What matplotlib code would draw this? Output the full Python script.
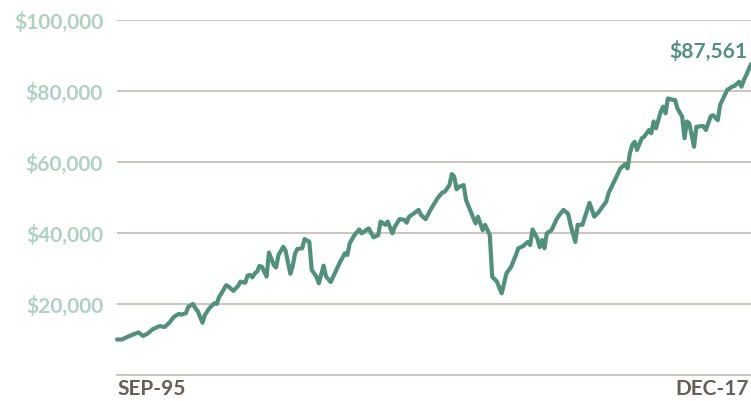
""" Growth of $10,000 line chart, Sep-95 to Dec-17 """

import matplotlib
matplotlib.use("Agg")
import matplotlib.pyplot as plt
from matplotlib.ticker import FuncFormatter

# months since Sep-95 and portfolio value
months = [0, 2, 4, 6, 9, 11, 13, 15, 18, 20, 22, 24, 26, 27, 29, 30, 32, 33,
          34, 36, 37, 39, 41, 42, 43, 44, 46, 47, 49, 51, 52, 54, 55, 56, 57,
          58, 59, 60, 61, 63, 64, 66, 67, 68, 70, 71, 73, 74, 75, 76, 78, 79,
          81, 82, 84, 85, 87, 88, 90, 93, 94, 96, 97, 98, 100, 102, 103, 106,
          108, 110, 111, 113, 114, 116, 117, 119, 121, 122, 123, 125, 127, 128,
          130, 132, 135, 137, 138, 140, 141, 142, 143, 144, 146, 147, 149, 151,
          152, 154, 155, 157, 158, 160, 162, 164, 166, 168, 169, 171, 173, 174,
          175, 177, 178, 179, 180, 181, 183, 185, 186, 188, 190, 191, 193, 194,
          196, 198, 199, 201, 203, 204, 206, 207, 209, 211, 212, 214, 215, 216,
          217, 218, 219, 221, 222, 224, 225, 226, 227, 229, 230, 231, 232, 234,
          235, 236, 238, 239, 240, 241, 243, 244, 246, 247, 248, 250, 251, 253,
          254, 255, 257, 259, 260, 262, 263, 264, 265, 267]
values = [10000, 10000, 10600, 11200, 12000, 11000, 11700, 12900, 13800, 13500,
          14700, 16400, 17200, 17000, 17400, 19200, 20000, 18800, 18000, 14700,
          16900, 18900, 20200, 20000, 22000, 23000, 25300, 24900, 23700, 25100,
          26300, 26000, 28000, 28200, 27500, 28600, 29100, 30700, 30500, 27700,
          34500, 31000, 30300, 33800, 36100, 35000, 28500, 30700, 34300, 35500,
          35700, 38300, 37500, 29600, 27700, 25800, 30800, 27800, 26200, 30500,
          31900, 34300, 33800, 37100, 39400, 41000, 39900, 41300, 38800, 39400,
          43200, 42300, 43200, 39900, 41800, 43900, 43700, 42900, 44600, 45500,
          46500, 45100, 43900, 46500, 49800, 51400, 51600, 53500, 56600, 55900,
          52300, 53000, 53500, 49300, 46000, 42700, 44600, 40800, 42300, 39400,
          27700, 26300, 23000, 28600, 30500, 33800, 35700, 36300, 37500, 36600,
          41000, 38500, 36000, 38000, 35700, 39900, 40800, 43700, 44800, 46500,
          45400, 42300, 37500, 42300, 42300, 46500, 48500, 44600, 46000, 47000,
          48800, 51200, 54000, 56800, 58200, 59400, 58200, 62500, 64800, 65700,
          63400, 66700, 67100, 69000, 68100, 71400, 69500, 74200, 75600, 73700,
          77900, 77500, 77500, 75100, 72800, 66700, 71400, 70900, 64300, 69900,
          70100, 70100, 69000, 72800, 73200, 71800, 76100, 77500, 80300, 81200,
          81400, 82600, 81200, 83100, 84500, 87561]
yticks = [20000, 40000, 60000, 80000, 100000]
start_label = "SEP-95"
end_label = "DEC-17"
end_value = values[-1]

line_color = "#4f9279"
tick_color = "#aed2c2"
grid_color = "#c9c0b6"
date_color = "#675e54"

plt.rcParams['font.family'] = ['Lato', 'DejaVu Sans']
plt.rcParams['font.weight'] = 'bold'

fig = plt.figure(figsize=(7.51, 4.01), dpi=100)
ax = fig.add_axes([117/751, 26/401, 634/751, 355/401])

ax.plot(months, values, color=line_color, lw=3.0, solid_joinstyle='round',
        solid_capstyle='round', clip_on=False, zorder=3)

ax.set_xlim(0, 267)
ax.set_ylim(0, 100000)
ax.set_yticks(yticks)
ax.yaxis.set_major_formatter(FuncFormatter(lambda v, p: f"${v:,.0f}"))
ax.tick_params(axis='y', length=0, pad=10, labelsize=15, labelcolor=tick_color)
ax.set_xticks([])
ax.grid(True, axis='y', color=grid_color, lw=1.3)
ax.axhline(0, color=grid_color, lw=1.3, clip_on=False)
for s in ax.spines.values():
    s.set_visible(False)

ax.text(265.5, end_value + 700, f"${end_value:,.0f}", ha='right', va='bottom',
        color=line_color, fontsize=15, fontweight='bold')

fig.text(117/751, 2/401, start_label, ha='left', va='bottom',
         color=date_color, fontsize=15, fontweight='bold')
fig.text(749/751, 2/401, end_label, ha='right', va='bottom',
         color=date_color, fontsize=15, fontweight='bold')

fig.savefig("out.png", dpi=100)
